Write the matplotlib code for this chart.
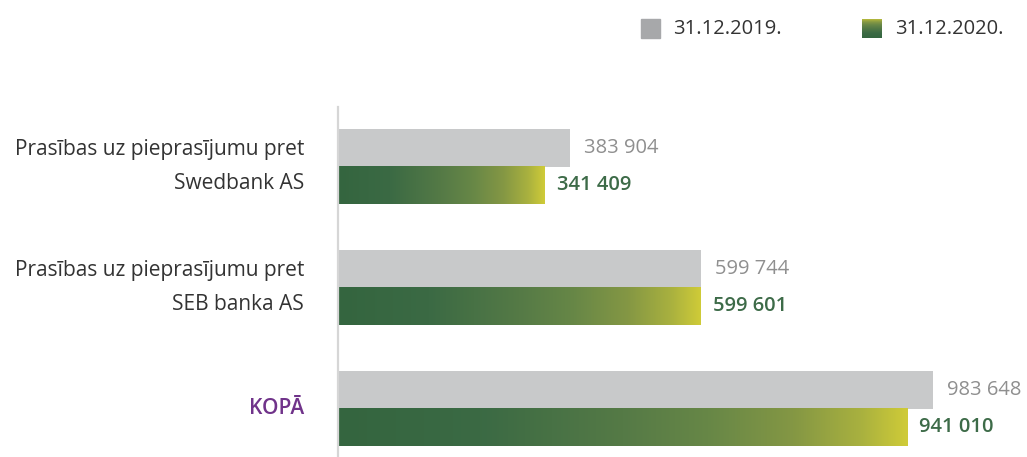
import numpy as np
import matplotlib
matplotlib.use("Agg")
import matplotlib.pyplot as plt
from matplotlib.colors import LinearSegmentedColormap
from matplotlib.patches import Rectangle

categories = ["Prasības uz pieprasījumu pret\nSwedbank AS",
              "Prasības uz pieprasījumu pret\nSEB banka AS",
              "KOPĀ"]
values_2019 = [383904, 599744, 983648]
values_2020 = [341409, 599601, 941010]
labels_2019 = ["383 904", "599 744", "983 648"]
labels_2020 = ["341 409", "599 601", "941 010"]
legend_labels = ["31.12.2019.", "31.12.2020."]

GREY = "#c8c9ca"
GREEN_TXT = "#3d6b48"
GREY_TXT = "#8f8f8f"
PURPLE = "#70338a"
cmap = LinearSegmentedColormap.from_list(
    "g", [(0, "#34653f"), (0.25, "#3b6a44"), (0.5, "#557a46"), (0.65, "#678747"),
          (0.8, "#849744"), (0.92, "#a9b13f"), (1.0, "#cfcb38")])

plt.rcParams['font.family'] = ['Open Sans', 'DejaVu Sans']

W, H = 1027, 457
fig = plt.figure(figsize=(W / 100, H / 100), dpi=100)
ax_left, ax_top, ax_bot = 338, 107, 457
ax = fig.add_axes([ax_left / W, 1 - ax_bot / H, (W - ax_left) / W, (ax_bot - ax_top) / H])

px_per_unit = 595 / 983648
xmax = (W - ax_left) / px_per_unit
step = 121.0
bh = 37.5 / step

grad = np.linspace(0, 1, 256).reshape(1, -1)
for i in range(len(categories)):
    v1, v2 = values_2019[i], values_2020[i]
    ax.barh(i - bh / 2, v1, height=bh, color=GREY, left=0)
    ax.imshow(grad, cmap=cmap, aspect='auto', extent=(0, v2, i + bh, i), zorder=2,
              interpolation='bicubic')
    ax.text(v1 + 14 / px_per_unit, i - bh / 2, labels_2019[i], color=GREY_TXT,
            fontsize=14.5, va='center', ha='left')
    ax.text(v2 + 12 / px_per_unit, i + bh / 2, labels_2020[i], color=GREEN_TXT,
            fontsize=14.5, va='center', ha='left', fontweight='semibold')
    if i == 2:
        ax.text(-34 / px_per_unit, i, categories[i], color=PURPLE, fontsize=15,
                va='center', ha='right', fontweight='semibold')
    else:
        ax.text(-34 / px_per_unit, i, categories[i], color="#333333", fontsize=15,
                va='center', ha='right', linespacing=1.8)

ax.set_xlim(0, xmax)
ax.set_ylim((ax_bot - 166.5) / step, (ax_top - 166.5) / step)
for s in ["top", "right", "bottom"]:
    ax.spines[s].set_visible(False)
ax.spines["left"].set_color("#d6d6d6")
ax.spines["left"].set_linewidth(1.6)
ax.set_xticks([])
ax.set_yticks([])

# legend
fig.patches.append(Rectangle((641 / W, 1 - 38 / H), 19 / W, 19 / H, transform=fig.transFigure,
                             color="#a7a8aa", figure=fig))
lax = fig.add_axes([862 / W, 1 - 38 / H, 20 / W, 19 / H])
lax.imshow(np.linspace(0, 1, 64).reshape(-1, 1), cmap=cmap, aspect='auto',
           origin='lower', extent=(0, 1, 0, 1))
lax.axis('off')
fig.text(673 / W, 1 - 29 / H, legend_labels[0], fontsize=14.5, color="#333333", va='center', ha='left')
fig.text(895 / W, 1 - 29 / H, legend_labels[1], fontsize=14.5, color="#333333", va='center', ha='left')

fig.savefig("out.png", dpi=100)
